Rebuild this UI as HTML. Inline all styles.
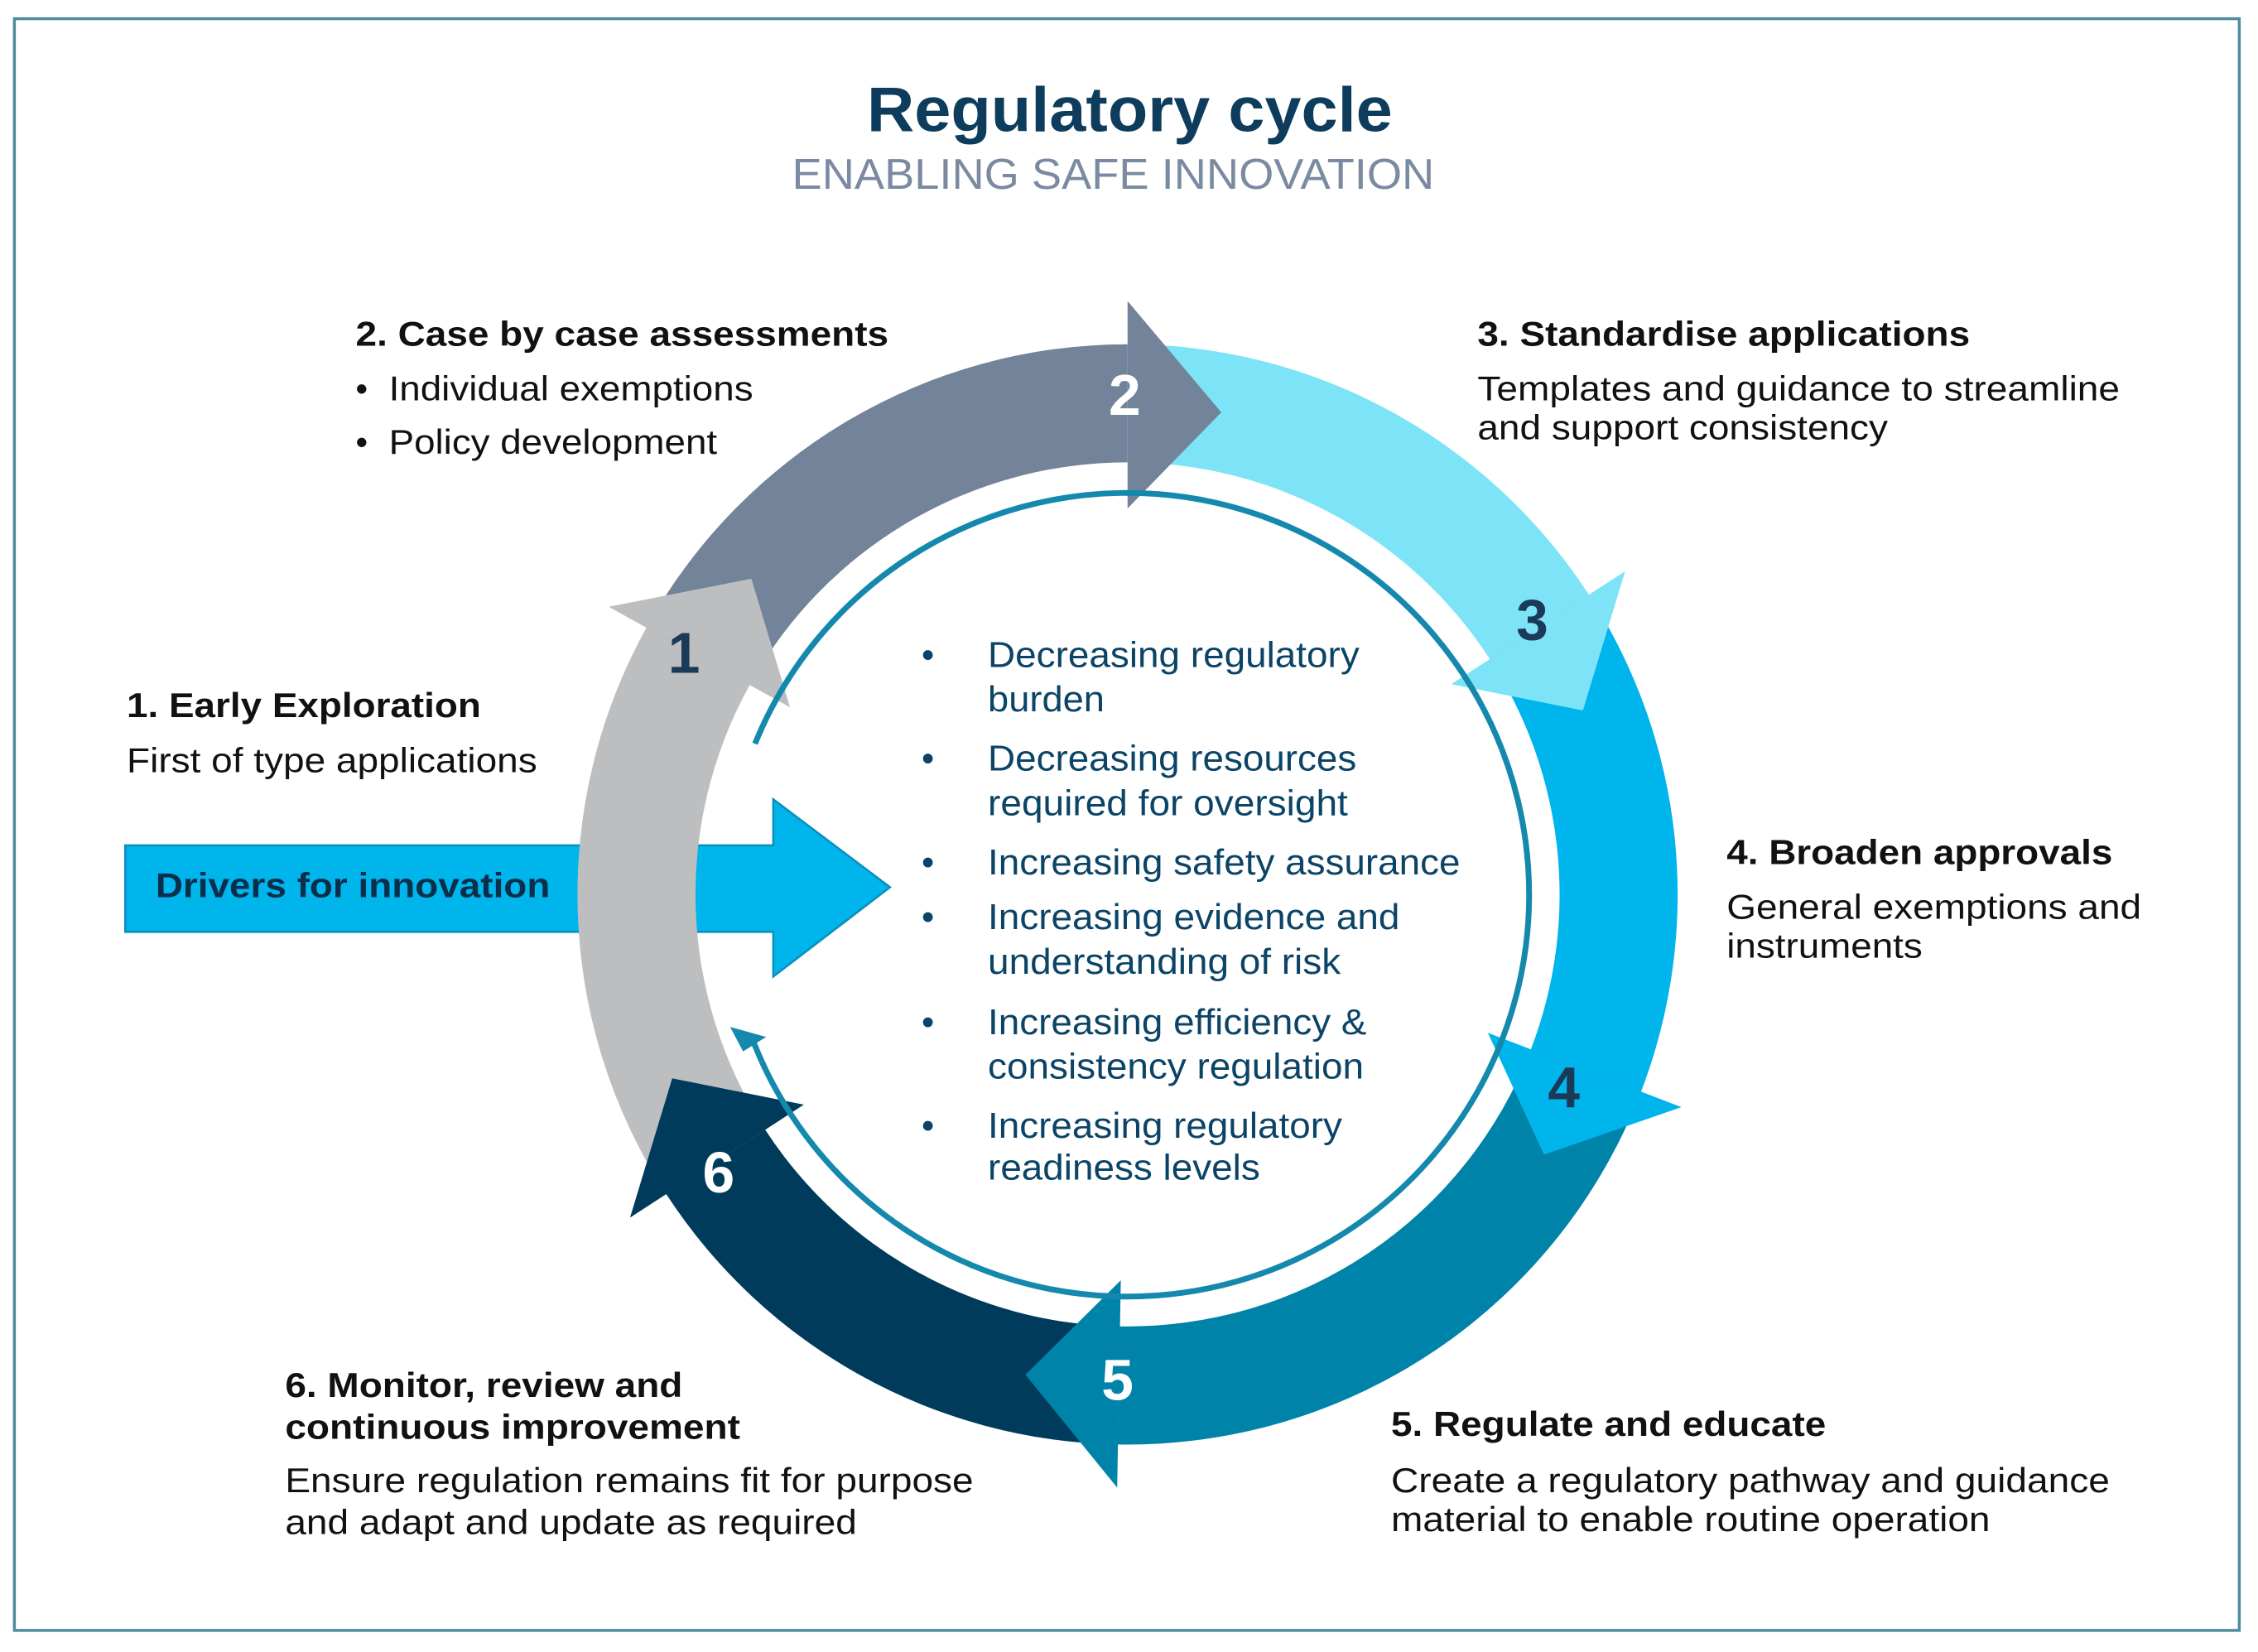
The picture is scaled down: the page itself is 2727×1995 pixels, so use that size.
<!DOCTYPE html>
<html><head><meta charset="utf-8"><style>
html,body{margin:0;padding:0;background:#fff;}
svg{display:block;}
text{font-family:"Liberation Sans",Arial,sans-serif;}
</style></head><body>
<svg width="2727" height="1995" viewBox="0 0 1568 1147" preserveAspectRatio="none" xmlns="http://www.w3.org/2000/svg">
<rect x="0" y="0" width="1568" height="1147" fill="#fff"/>
<rect x="10" y="13" width="1545" height="1119" fill="none" stroke="#4e8aa0" stroke-width="2"/>

<text x="602" y="91" font-size="44" font-weight="bold" fill="#0d3c5c" textLength="365" lengthAdjust="spacingAndGlyphs">Regulatory cycle</text>
<text x="550" y="131" font-size="30" fill="#7a8aa0" textLength="446" lengthAdjust="spacingAndGlyphs">ENABLING SAFE INNOVATION</text>

<polygon points="87,587 537,587 537,555 618,616 537,678 537,647 87,647" fill="#00b4ec" stroke="#0a8fbf" stroke-width="1.5"/>
<text x="108" y="623" font-size="24" font-weight="bold" fill="#0b2f4a" textLength="274" lengthAdjust="spacingAndGlyphs">Drivers for innovation</text>

<path d="M462.6,829.0 A382,382 0 0 1 448.9,435.8 L520.6,475.6 A300,300 0 0 0 531.4,784.4 Z" fill="#bcbec0"/>
<path d="M448.9,435.8 A382,382 0 0 1 783,239 L783,321 A300,300 0 0 0 520.6,475.6 Z" fill="#738399"/>
<path d="M783,239 A382,382 0 0 1 1103.4,413.0 L1034.6,457.6 A300,300 0 0 0 783,321 Z" fill="#7de3f6"/>
<path d="M1103.4,413.0 A382,382 0 0 1 1139.6,757.9 L1063.1,728.5 A300,300 0 0 0 1034.6,457.6 Z" fill="#00b4ec"/>
<path d="M1139.6,757.9 A382,382 0 0 1 776.3,1002.9 L777.8,920.9 A300,300 0 0 0 1063.1,728.5 Z" fill="#0083a9"/>
<path d="M776.3,1002.9 A382,382 0 0 1 462.6,829.0 L531.4,784.4 A300,300 0 0 0 777.8,920.9 Z" fill="#003b5c"/>

<polygon points="548.6,491.1 422.7,421.3 521.8,401.8" fill="#bcbec0"/>
<polygon points="783,353 783,209 848.1,286.3" fill="#738399"/>
<polygon points="1007.8,475.0 1128.5,396.6 1099.2,493.3" fill="#7de3f6"/>
<polygon points="1033.2,717.1 1167.6,768.7 1072.2,801.7" fill="#00b4ec"/>
<polygon points="778.3,888.9 775.8,1032.9 712.1,954.5" fill="#0083a9"/>
<polygon points="558.2,767.0 437.5,845.4 466.8,748.7" fill="#003b5c"/>

<path d="M524.3,516.4 A279,279 0 1 1 522.5,721.5" fill="none" stroke="#1489ad" stroke-width="4"/>
<polygon points="507,713 516,730 532,720" fill="#1489ad"/>

<g font-size="40" font-weight="bold" text-anchor="middle">
<text x="475" y="467" fill="#1b3a58">1</text>
<text x="781" y="288" fill="#fff">2</text>
<text x="1064" y="444" fill="#1b3a58">3</text>
<text x="1086" y="769" fill="#1b3a58">4</text>
<text x="776" y="972" fill="#fff">5</text>
<text x="499" y="828" fill="#fff">6</text>
</g>

<g font-size="24" fill="#111">
<text x="247" y="240" font-weight="bold" textLength="370" lengthAdjust="spacingAndGlyphs">2. Case by case assessments</text>
<text x="247" y="278">•</text><text x="270" y="278" textLength="253" lengthAdjust="spacingAndGlyphs">Individual exemptions</text>
<text x="247" y="315">•</text><text x="270" y="315" textLength="228" lengthAdjust="spacingAndGlyphs">Policy development</text>

<text x="1026" y="240" font-weight="bold" textLength="342" lengthAdjust="spacingAndGlyphs">3. Standardise applications</text>
<text x="1026" y="278" textLength="446" lengthAdjust="spacingAndGlyphs">Templates and guidance to streamline</text>
<text x="1026" y="305" textLength="285" lengthAdjust="spacingAndGlyphs">and support consistency</text>

<text x="88" y="498" font-weight="bold" textLength="246" lengthAdjust="spacingAndGlyphs">1. Early Exploration</text>
<text x="88" y="536" textLength="285" lengthAdjust="spacingAndGlyphs">First of type applications</text>

<text x="1199" y="600" font-weight="bold" textLength="268" lengthAdjust="spacingAndGlyphs">4. Broaden approvals</text>
<text x="1199" y="638" textLength="288" lengthAdjust="spacingAndGlyphs">General exemptions and</text>
<text x="1199" y="665" textLength="136" lengthAdjust="spacingAndGlyphs">instruments</text>

<text x="198" y="970" font-weight="bold" textLength="276" lengthAdjust="spacingAndGlyphs">6. Monitor, review and</text>
<text x="198" y="999" font-weight="bold" textLength="316" lengthAdjust="spacingAndGlyphs">continuous improvement</text>
<text x="198" y="1036" textLength="478" lengthAdjust="spacingAndGlyphs">Ensure regulation remains fit for purpose</text>
<text x="198" y="1065" textLength="397" lengthAdjust="spacingAndGlyphs">and adapt and update as required</text>

<text x="966" y="997" font-weight="bold" textLength="302" lengthAdjust="spacingAndGlyphs">5. Regulate and educate</text>
<text x="966" y="1036" textLength="499" lengthAdjust="spacingAndGlyphs">Create a regulatory pathway and guidance</text>
<text x="966" y="1063" textLength="416" lengthAdjust="spacingAndGlyphs">material to enable routine operation</text>
</g>

<g font-size="25" fill="#0b4466">
<text x="640" y="463">•</text><text x="686" y="463" textLength="258" lengthAdjust="spacingAndGlyphs">Decreasing regulatory</text>
<text x="686" y="494" textLength="81" lengthAdjust="spacingAndGlyphs">burden</text>
<text x="640" y="535">•</text><text x="686" y="535" textLength="256" lengthAdjust="spacingAndGlyphs">Decreasing resources</text>
<text x="686" y="566" textLength="250" lengthAdjust="spacingAndGlyphs">required for oversight</text>
<text x="640" y="607">•</text><text x="686" y="607" textLength="328" lengthAdjust="spacingAndGlyphs">Increasing safety assurance</text>
<text x="640" y="645">•</text><text x="686" y="645" textLength="286" lengthAdjust="spacingAndGlyphs">Increasing evidence and</text>
<text x="686" y="676" textLength="245" lengthAdjust="spacingAndGlyphs">understanding of risk</text>
<text x="640" y="718">•</text><text x="686" y="718" textLength="263" lengthAdjust="spacingAndGlyphs">Increasing efficiency &amp;</text>
<text x="686" y="749" textLength="261" lengthAdjust="spacingAndGlyphs">consistency regulation</text>
<text x="640" y="790">•</text><text x="686" y="790" textLength="246" lengthAdjust="spacingAndGlyphs">Increasing regulatory</text>
<text x="686" y="819" textLength="189" lengthAdjust="spacingAndGlyphs">readiness levels</text>
</g>
</svg>
</body></html>
